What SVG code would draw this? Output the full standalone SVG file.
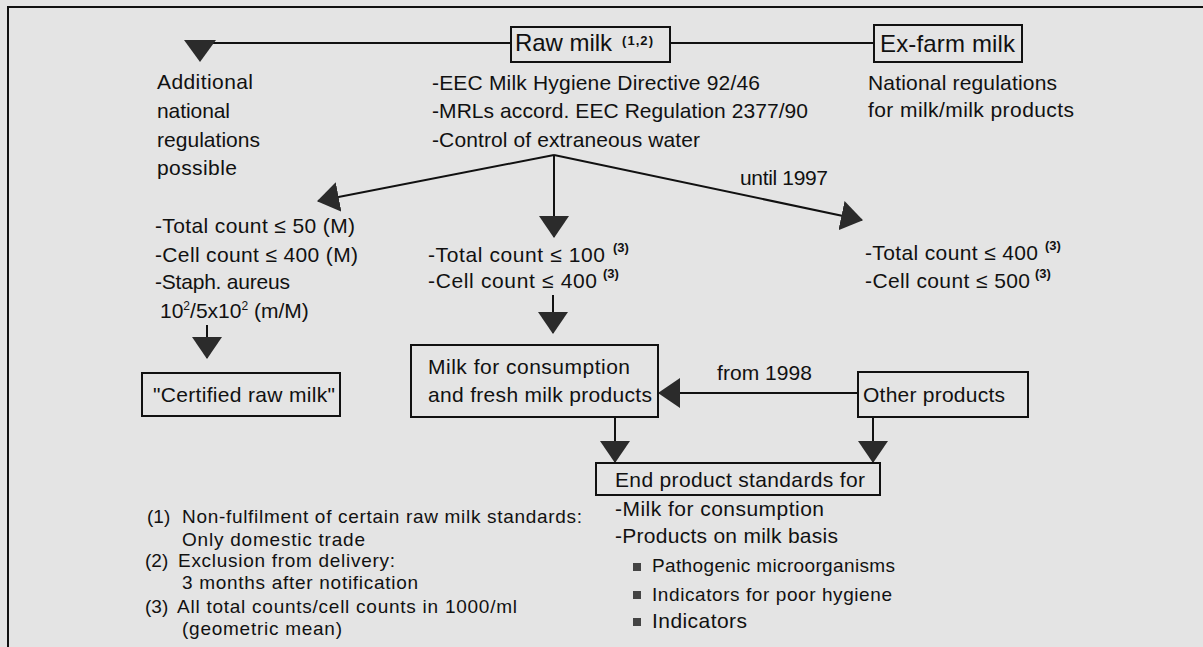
<svg xmlns="http://www.w3.org/2000/svg" width="1203" height="647" viewBox="0 0 1203 647">
<style>
text{font-family:"Liberation Sans",Arial,sans-serif;fill:#111;}
.m{font-size:21px}
.b{font-size:24px}
.f{font-size:19px}
.s{font-size:13px;font-weight:bold}
.box{fill:none;stroke:#111;stroke-width:2}
.ln{fill:none;stroke:#111;stroke-width:2}
.ah{fill:#2b2b2b}
.bul{fill:#444}
</style>
<defs>
<marker id="arr" viewBox="0 0 22 30" refX="21" refY="15" markerWidth="22" markerHeight="30" orient="auto" markerUnits="userSpaceOnUse">
<path d="M0,0 L22,15 L0,30 Z" fill="#2b2b2b"/>
</marker>
</defs>
<rect x="0" y="0" width="1203" height="647" fill="#e4e4e4"/>
<path class="ln" d="M8,647 L8,7 L1203,7"/>

<g id="connectors">
<line class="ln" x1="200" y1="43" x2="511" y2="43"/>
<polygon class="ah" points="184,40 216,40 200,62"/>
<line class="ln" x1="670" y1="43" x2="874" y2="43"/>
<line class="ln" x1="554" y1="155" x2="318" y2="201" marker-end="url(#arr)"/>
<line class="ln" x1="554" y1="155" x2="554" y2="237" marker-end="url(#arr)"/>
<line class="ln" x1="554" y1="155" x2="862" y2="220" marker-end="url(#arr)"/>
<text class="m" x="740" y="185" textLength="88">until 1997</text>
<line class="ln" x1="207" y1="325" x2="207" y2="358" marker-end="url(#arr)"/>
<line class="ln" x1="553" y1="295" x2="553" y2="333" marker-end="url(#arr)"/>
<line class="ln" x1="858" y1="393" x2="659" y2="393" marker-end="url(#arr)"/>
<text class="m" x="717" y="380" textLength="95">from 1998</text>
<line class="ln" x1="615" y1="417" x2="615" y2="462" marker-end="url(#arr)"/>
<line class="ln" x1="873" y1="417" x2="873" y2="462" marker-end="url(#arr)"/>
</g>

<g id="raw-milk">
<rect class="box" x="511" y="27" width="159" height="35"/>
<text class="b" x="515" y="51" textLength="97">Raw milk</text>
<text class="s" x="622" y="45" textLength="31">(1,2)</text>
</g>

<g id="ex-farm-milk">
<rect class="box" x="874" y="25" width="148" height="37"/>
<text class="b" x="880" y="52" textLength="135">Ex-farm milk</text>
</g>

<g id="additional-national">
<text class="m" x="157" y="89" textLength="96">Additional</text>
<text class="m" x="157" y="118" textLength="73">national</text>
<text class="m" x="157" y="147" textLength="103">regulations</text>
<text class="m" x="157" y="175" textLength="80">possible</text>
</g>

<g id="raw-milk-rules">
<text class="m" x="432" y="90" textLength="328">-EEC Milk Hygiene Directive 92/46</text>
<text class="m" x="432" y="118" textLength="376">-MRLs accord. EEC Regulation 2377/90</text>
<text class="m" x="432" y="147" textLength="268">-Control of extraneous water</text>
</g>

<g id="national-regulations">
<text class="m" x="868" y="90" textLength="189">National regulations</text>
<text class="m" x="868" y="117" textLength="206">for milk/milk products</text>
</g>

<g id="certified-criteria">
<text class="m" x="155" y="233" textLength="200">-Total count ≤ 50 (M)</text>
<text class="m" x="155" y="262" textLength="203">-Cell count ≤ 400 (M)</text>
<text class="m" x="155" y="289" textLength="135">-Staph. aureus</text>
<text class="m" x="160" y="318">10<tspan font-size="12" dy="-8">2</tspan><tspan dy="8">/5x10</tspan><tspan font-size="12" dy="-8">2</tspan><tspan dy="8"> (m/M)</tspan></text>
</g>

<g id="consumption-criteria">
<text class="m" x="428" y="262" textLength="177">-Total count ≤ 100</text>
<text class="s" x="613" y="252">(3)</text>
<text class="m" x="428" y="288" textLength="169">-Cell count ≤ 400</text>
<text class="s" x="603" y="278">(3)</text>
</g>

<g id="until-1997-criteria">
<text class="m" x="865" y="260" textLength="173">-Total count ≤ 400</text>
<text class="s" x="1045" y="250">(3)</text>
<text class="m" x="865" y="288" textLength="165">-Cell count ≤ 500</text>
<text class="s" x="1035" y="278">(3)</text>
</g>

<g id="certified-raw-milk">
<rect class="box" x="142" y="373" width="198" height="43"/>
<text class="m" x="153" y="402" textLength="182">"Certified raw milk"</text>
</g>

<g id="milk-consumption">
<rect class="box" x="411" y="345" width="247" height="72"/>
<text class="m" x="428" y="374" textLength="202">Milk for consumption</text>
<text class="m" x="428" y="402" textLength="224">and fresh milk products</text>
</g>

<g id="other-products">
<rect class="box" x="858" y="372" width="170" height="45"/>
<text class="m" x="863" y="402" textLength="142">Other products</text>
</g>

<g id="end-product-standards">
<rect class="box" x="596" y="463" width="284" height="32"/>
<text class="m" x="615" y="487" textLength="250">End product standards for</text>
<text class="m" x="615" y="516" textLength="209">-Milk for consumption</text>
<text class="m" x="615" y="543" textLength="223">-Products on milk basis</text>
<rect class="bul" x="633" y="563" width="8" height="8"/>
<text class="f" x="652" y="572" textLength="243">Pathogenic microorganisms</text>
<rect class="bul" x="633" y="591" width="8" height="8"/>
<text class="f" x="652" y="601" textLength="240">Indicators for poor hygiene</text>
<rect class="bul" x="633" y="618" width="8" height="8"/>
<text class="m" x="652" y="628" textLength="95">Indicators</text>
</g>

<g id="footnotes">
<text class="f" x="147" y="523">(1)</text>
<text class="f" x="182" y="523" textLength="400">Non-fulfilment of certain raw milk standards:</text>
<text class="f" x="182" y="546" textLength="183">Only domestic trade</text>
<text class="f" x="145" y="567">(2)</text>
<text class="f" x="178" y="567" textLength="217">Exclusion from delivery:</text>
<text class="f" x="182" y="589" textLength="236">3 months after notification</text>
<text class="f" x="145" y="613">(3)</text>
<text class="f" x="177" y="613" textLength="340">All total counts/cell counts in 1000/ml</text>
<text class="f" x="182" y="635" textLength="160">(geometric mean)</text>
</g>
</svg>
